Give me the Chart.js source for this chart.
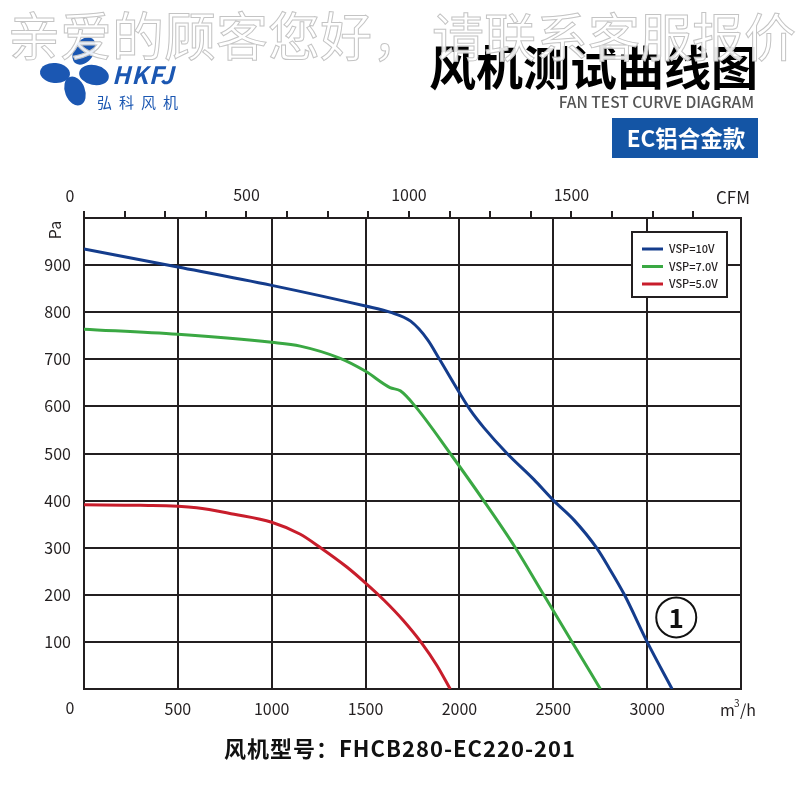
<!DOCTYPE html>
<html>
<head>
<meta charset="utf-8">
<script src="https://cdn.jsdelivr.net/npm/chart.js@4"></script>
<style>
  body { margin: 0; background: #fff; }
  canvas { display: block; }
</style>
</head>
<body>
<canvas id="myChart" width="800" height="800"></canvas>
<script>
// values (m3/h -> Pa)
const flowBlue = [0, 500, 1000, 1500, 1630, 1740, 1830, 1894, 2000, 2060, 2130, 2254, 2396, 2502, 2612, 2730, 2800, 2879, 3000, 3133];
const pressBlue = [934, 896, 857, 813, 800, 781, 742, 700, 629, 591, 555, 500, 445, 400, 358, 300, 255, 200, 100, 0];

const flowGreen = [0, 500, 1000, 1152, 1365, 1498, 1630, 1685, 1765, 1951, 2129, 2298, 2449, 2600, 2751];
const pressGreen = [764, 753, 736, 728, 702, 675, 640, 633, 600, 500, 400, 300, 200, 100, 0];

const flowRed = [0, 300, 600, 800, 1000, 1150, 1260, 1400, 1500, 1600, 1700, 1800, 1880, 1951];
const pressRed = [391, 390, 385, 371, 354, 329, 300, 259, 225, 188, 146, 97, 50, 0];

const seriesLabels = ["VSP=10V", "VSP=7.0V", "VSP=5.0V"];
const seriesColors = ["#143c8c", "#3aa843", "#c81d2b"];

const FONT = "'Noto Sans CJK SC', 'Noto Sans', sans-serif";
const INK = "#231f20";

function toPoints(xs, ys) {
  return xs.map((x, i) => ({ x: x, y: ys[i] }));
}

const decorations = {
  id: "decorations",
  beforeDraw(chart) {
    const ctx = chart.ctx;
    ctx.save();
    ctx.fillStyle = "#fff";
    ctx.fillRect(0, 0, chart.width, chart.height);

    // logo pinwheel
    ctx.fillStyle = "#1b57b2";
    const petals = [
      [84, 51, -1.0],
      [55, 73, 0.1],
      [75, 91, 1.2],
      [94, 75, 0.2],
    ];
    petals.forEach((p) => {
      ctx.beginPath();
      ctx.ellipse(p[0], p[1], 15, 10, p[2], 0, Math.PI * 2);
      ctx.fill();
    });
    ctx.textBaseline = "alphabetic";
    ctx.textAlign = "left";
    ctx.letterSpacing = "1px";
    ctx.font = "italic bold 24px " + FONT;
    ctx.fillText("HKFJ", 112, 84);
    ctx.letterSpacing = "7px";
    ctx.font = "15px " + FONT;
    ctx.fillText("弘科风机", 97, 108);
    ctx.letterSpacing = "0px";

    // title block
    ctx.fillStyle = "#000";
    ctx.font = "bold 47px " + FONT;
    ctx.textAlign = "right";
    ctx.textBaseline = "middle";
    ctx.fillText("风机测试曲线图", 758, 67);
    ctx.fillStyle = "#555";
    ctx.font = "500 15.5px " + FONT;
    ctx.fillText("FAN TEST CURVE DIAGRAM", 754, 102);

    ctx.fillStyle = "#1455a5";
    ctx.fillRect(612, 118, 146, 40);
    ctx.fillStyle = "#fff";
    ctx.font = "bold 22.5px " + FONT;
    ctx.textAlign = "center";
    ctx.fillText("EC铝合金款", 686, 138);

    // model line
    ctx.fillStyle = "#111";
    ctx.font = "bold 22px " + FONT;
    ctx.letterSpacing = "1px";
    ctx.fillText("风机型号：FHCB280-EC220-201", 400, 749);
    ctx.letterSpacing = "0px";
    ctx.restore();
  },
  afterDraw(chart) {
    const ctx = chart.ctx;
    const xs = chart.scales.x;
    const ys = chart.scales.y;
    ctx.save();

    // axis captions
    ctx.fillStyle = INK;
    ctx.font = "16px " + FONT;
    ctx.textAlign = "center";
    ctx.textBaseline = "middle";
    ctx.fillText("0", 70, 196);
    ctx.fillText("0", 70, 708);
    ctx.font = "17px " + FONT;
    ctx.fillText("CFM", 733, 198);
    ctx.font = "16px " + FONT;
    ctx.textAlign = "left";
    ctx.fillText("m", 720, 710);
    ctx.font = "10px " + FONT;
    ctx.fillText("3", 734, 703);
    ctx.font = "16px " + FONT;
    ctx.fillText("/h", 740, 710);
    ctx.save();
    ctx.translate(55, 230);
    ctx.rotate(-Math.PI / 2);
    ctx.textAlign = "center";
    ctx.fillText("Pa", 0, 0);
    ctx.restore();

    // legend box
    ctx.fillStyle = "#fff";
    ctx.fillRect(632, 232, 95, 65);
    ctx.strokeStyle = INK;
    ctx.lineWidth = 2;
    ctx.strokeRect(632, 232, 95, 65);
    ctx.font = "500 11px " + FONT;
    ctx.textAlign = "left";
    chart.data.datasets.forEach((ds, i) => {
      const yy = 249 + i * 17.5;
      ctx.strokeStyle = ds.borderColor;
      ctx.lineWidth = 3;
      ctx.beginPath();
      ctx.moveTo(642, yy);
      ctx.lineTo(663, yy);
      ctx.stroke();
      ctx.fillStyle = INK;
      ctx.fillText(ds.label, 669, yy);
    });

    // curve number marker
    const cx = xs.getPixelForValue(3155);
    const cy = ys.getPixelForValue(152);
    ctx.strokeStyle = "#111";
    ctx.lineWidth = 2;
    ctx.beginPath();
    ctx.arc(cx, cy, 20, 0, Math.PI * 2);
    ctx.stroke();
    ctx.fillStyle = "#111";
    ctx.font = "bold 26px " + FONT;
    ctx.textAlign = "center";
    ctx.fillText("1", cx, cy + 1);

    // watermark
    ctx.font = "52px " + FONT;
    ctx.textAlign = "left";
    ctx.textBaseline = "middle";
    ctx.fillStyle = "rgba(255,255,255,0.9)";
    ctx.strokeStyle = "#c4c4c4";
    ctx.lineWidth = 1;
    ctx.fillText("亲爱的顾客您好，", 8, 36);
    ctx.strokeText("亲爱的顾客您好，", 8, 36);
    ctx.fillText("请联系客服报价", 432, 37);
    ctx.strokeText("请联系客服报价", 432, 37);
    ctx.restore();
  },
};

const ctx = document.getElementById("myChart");
const chart = new Chart(ctx, {
  type: "line",
  data: {
    datasets: [
      { label: seriesLabels[0], data: toPoints(flowBlue, pressBlue), borderColor: seriesColors[0] },
      { label: seriesLabels[1], data: toPoints(flowGreen, pressGreen), borderColor: seriesColors[1] },
      { label: seriesLabels[2], data: toPoints(flowRed, pressRed), borderColor: seriesColors[2] },
    ].map((d) => Object.assign(d, {
      borderWidth: 3,
      pointRadius: 0,
      fill: false,
      cubicInterpolationMode: "monotone",
      xAxisID: "x",
      yAxisID: "y",
    })),
  },
  options: {
    responsive: false,
    animation: false,
    layout: { padding: { top: 188, bottom: 81, left: 0, right: 59 } },
    plugins: { legend: { display: false }, tooltip: { enabled: false } },
    scales: {
      x: {
        type: "linear",
        position: "bottom",
        min: 0,
        max: 3500,
        afterFit: (s) => { s.height = 30; },
        ticks: {
          stepSize: 500,
          padding: 10,
          color: INK,
          font: { size: 16, family: FONT },
          maxRotation: 0,
          callback: (v) => (v === 0 || v === 3500 ? "" : v),
        },
        grid: { color: INK, lineWidth: 2, drawTicks: false },
        border: { color: INK, width: 2 },
      },
      x2: {
        type: "linear",
        position: "top",
        min: 0,
        max: 2022,
        afterFit: (s) => { s.height = 30; },
        afterBuildTicks: (s) => { s.ticks = s.ticks.filter((t) => t.value <= 1875); },
        ticks: {
          stepSize: 125,
          padding: 6,
          color: INK,
          autoSkip: false,
          maxRotation: 0,
          font: { size: 16, family: FONT },
          callback: (v) => (v % 500 === 0 && v !== 0 ? v : ""),
        },
        grid: { drawOnChartArea: false, color: INK, lineWidth: 2, tickLength: 7 },
        border: { color: INK, width: 2 },
      },
      y: {
        type: "linear",
        min: 0,
        max: 1000,
        afterFit: (s) => { s.width = 84; },
        ticks: {
          stepSize: 100,
          padding: 13,
          color: INK,
          font: { size: 16, family: FONT },
          callback: (v) => (v === 0 || v === 1000 ? "" : v),
        },
        grid: { color: INK, lineWidth: 2, drawTicks: false },
        border: { color: INK, width: 2 },
      },
    },
  },
  plugins: [decorations],
});
</script>
</body>
</html>
